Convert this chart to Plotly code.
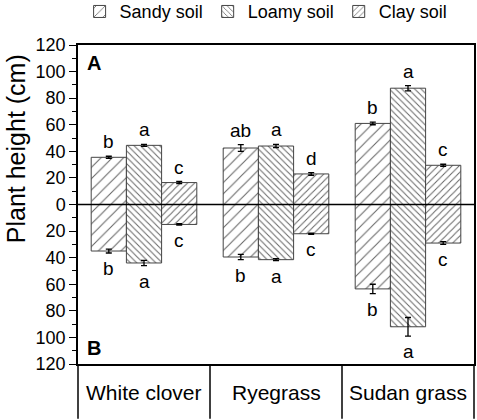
import plotly.graph_objects as go

crops = ["White clover", "Ryegrass", "Sudan grass"]
soils = ["Sandy soil", "Loamy soil", "Clay soil"]

# shoot height (panel A, above zero)
sandy_up = [35.5, 42.5, 61.0]
loamy_up = [44.5, 44.0, 87.5]
clay_up = [16.5, 23.0, 29.5]
# root length (panel B, below zero)
sandy_down = [35.0, 39.5, 63.5]
loamy_down = [44.0, 41.5, 92.0]
clay_down = [15.0, 22.0, 29.0]

sandy_err_up = [0.8, 2.5, 1.0]
loamy_err_up = [0.8, 1.2, 2.0]
clay_err_up = [0.8, 1.0, 0.8]
sandy_err_down = [1.5, 2.0, 3.5]
loamy_err_down = [2.0, 0.8, 7.0]
clay_err_down = [0.5, 0.5, 1.0]

sandy_lbl_up = ["b", "ab", "b"]
loamy_lbl_up = ["a", "a", "a"]
clay_lbl_up = ["c", "d", "c"]
sandy_lbl_down = ["b", "b", "b"]
loamy_lbl_down = ["a", "a", "a"]
clay_lbl_down = ["c", "c", "c"]

yticks = [-120, -100, -80, -60, -40, -20, 0, 20, 40, 60, 80, 100, 120]
ytick_text = [str(abs(v)) for v in yticks]

FONT = "Arial, Liberation Sans, sans-serif"
bargap = 0.2

series = [
    (sandy_up, sandy_down, sandy_err_up, sandy_err_down, sandy_lbl_up, sandy_lbl_down, "/", 8, 0.13),
    (loamy_up, loamy_down, loamy_err_up, loamy_err_down, loamy_lbl_up, loamy_lbl_down, "\\", 4.5, 0.22),
    (clay_up, clay_down, clay_err_up, clay_err_down, clay_lbl_up, clay_lbl_down, "/", 5, 0.2),
]

fig = go.Figure()
annotations = []
w = (1 - bargap) / len(soils)

for j, (up, down, eu, ed, lu, ld, shape, size, sol) in enumerate(series):
    fig.add_trace(go.Bar(
        x=crops + crops,
        y=up + [-v for v in down],
        name=soils[j],
        marker=dict(color="white",
                    line=dict(color="#444", width=1),
                    pattern=dict(shape=shape, size=size, solidity=sol,
                                 fgcolor="#666", bgcolor="white", fillmode="replace")),
        error_y=dict(type="data", array=eu + ed, color="black", thickness=1.3, width=3),
    ))
    for i in range(len(crops)):
        xpos = i + (j - 1) * w
        annotations.append(dict(x=xpos, y=up[i] + eu[i], xref="x", yref="y", text=lu[i],
                                showarrow=False, yanchor="bottom", yshift=2,
                                font=dict(size=19, color="black", family=FONT)))
        annotations.append(dict(x=xpos, y=-down[i] - ed[i], xref="x", yref="y", text=ld[i],
                                showarrow=False, yanchor="top", yshift=-3,
                                font=dict(size=19, color="black", family=FONT)))

# category labels in the box below the plot
for i, c in enumerate(crops):
    annotations.append(dict(x=i, y=-0.088, xref="x", yref="paper", text=c, showarrow=False,
                            xanchor="center", yanchor="middle",
                            font=dict(size=21, color="black", family=FONT)))

annotations += [
    dict(x=0.018, y=0.985, xref="paper", yref="paper", text="<b>A</b>", showarrow=False,
         xanchor="left", yanchor="top", font=dict(size=20, color="black", family=FONT)),
    dict(x=0.018, y=0.008, xref="paper", yref="paper", text="<b>B</b>", showarrow=False,
         xanchor="left", yanchor="bottom", font=dict(size=20, color="black", family=FONT)),
    dict(x=-0.156, y=0.674, xref="paper", yref="paper", text="Plant height (cm)",
         xanchor="center", yanchor="middle",
         showarrow=False, textangle=-90, font=dict(size=25, color="black", family=FONT)),
]

shapes = [
    # lower category box: left, right, dividers
    dict(type="line", xref="paper", yref="paper", x0=0, x1=0, y0=0, y1=-0.172,
         line=dict(color="black", width=1.5)),
    dict(type="line", xref="paper", yref="paper", x0=1, x1=1, y0=0, y1=-0.172,
         line=dict(color="black", width=1.5)),
    dict(type="line", xref="x", yref="paper", x0=0.5, x1=0.5, y0=0, y1=-0.172,
         line=dict(color="black", width=1.5)),
    dict(type="line", xref="x", yref="paper", x0=1.5, x1=1.5, y0=0, y1=-0.172,
         line=dict(color="black", width=1.5)),
    # zero line
    dict(type="line", xref="paper", yref="y", x0=0, x1=1, y0=0, y1=0,
         line=dict(color="black", width=1.5)),
]

fig.update_layout(
    width=477, height=420,
    margin=dict(l=78, r=3, t=45, b=56, autoexpand=False),
    barmode="group", bargap=bargap, bargroupgap=0,
    plot_bgcolor="white", paper_bgcolor="white",
    font=dict(family=FONT, color="black", size=18),
    showlegend=True,
    legend=dict(orientation="h", x=0.475, xanchor="center", yref="container", y=0.972,
                yanchor="middle", font=dict(size=18, family=FONT), itemwidth=30,
                tracegroupgap=0, bgcolor="rgba(0,0,0,0)"),
    annotations=annotations,
    shapes=shapes,
)

fig.update_xaxes(range=[-0.5, 2.5], showticklabels=False, ticks="", automargin=False,
                 showline=True, linecolor="black", linewidth=1.5, mirror=True,
                 showgrid=False, zeroline=False)
fig.update_yaxes(range=[-120, 120], tickmode="array", tickvals=yticks, ticktext=ytick_text,
                 automargin=False,
                 ticks="outside", ticklen=7, tickwidth=1.3, tickcolor="black",
                 minor=dict(tickvals=[v + 10 for v in yticks[:-1]], ticks="outside",
                            ticklen=4, tickwidth=1.2, tickcolor="black"),
                 showline=True, linecolor="black", linewidth=1.5, mirror=True,
                 showgrid=False, zeroline=False, tickfont=dict(size=18, family=FONT))

# drop the default page margin so the figure sits at the window's top-left corner
fig.write_html("out.html", config={"displayModeBar": False},
               post_script="document.body.style.margin='0';")
